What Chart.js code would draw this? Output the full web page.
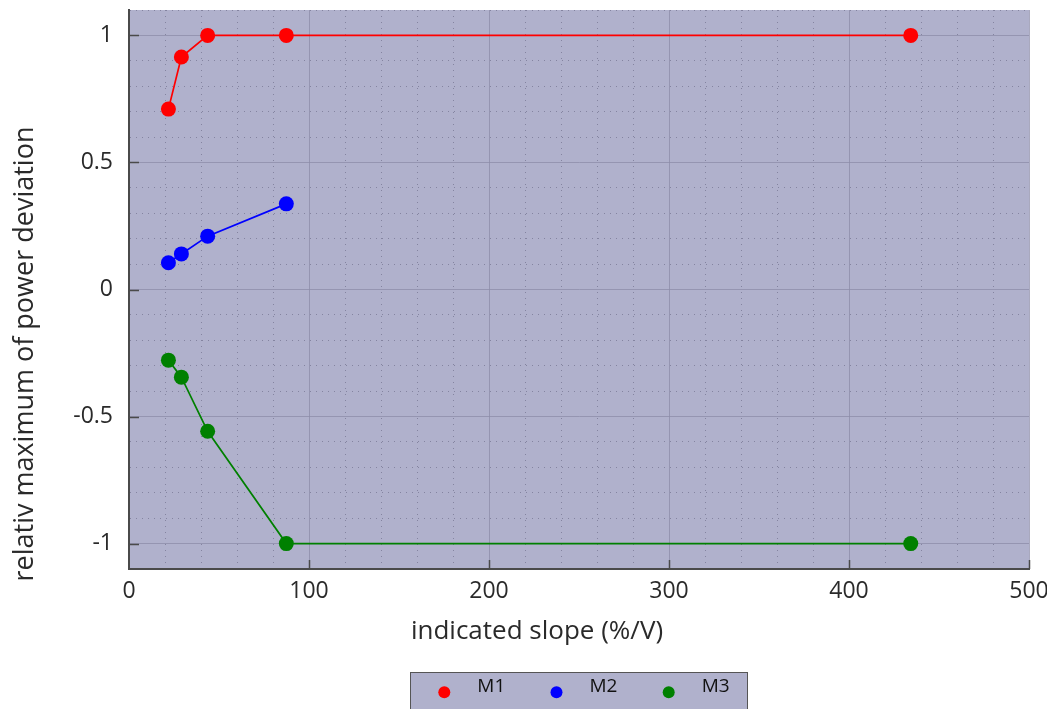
<!DOCTYPE html>
<html>
<head>
<meta charset="utf-8">
<script src="https://cdn.jsdelivr.net/npm/chart.js@4.4.1/dist/chart.umd.min.js"></script>
<style>
  html, body { margin: 0; padding: 0; background: #fff; }
  #wrap { width: 1047px; height: 709px; position: relative; }
</style>
</head>
<body>
<div id="wrap"><canvas id="chart"></canvas></div>
<script>
// values
const slope = [21.9, 29.1, 43.7, 87.4, 434.3];
const m1 = [0.71, 0.915, 1, 1, 1];
const m2 = [0.105, 0.14, 0.21, 0.337];
const m3 = [-0.278, -0.345, -0.558, -1, -1];
const seriesNames = ["M1", "M2", "M3"];
const seriesColors = ["#ff0000", "#0000ff", "#008000"];
const xMajor = [100, 200, 300, 400, 500];
const yMajor = [-1, -0.5, 0, 0.5, 1];

const FONT = "'Open Sans', 'Noto Sans', sans-serif";
const PLOT_BG = "#b0b1cc";
const TEXT = "#2a2a2a";
const GRID_MAJOR = "rgba(140,140,168,0.75)";
const GRID_MINOR = "rgba(118,118,145,0.75)";

function pts(ys) {
  return ys.map((y, i) => ({ x: slope[i], y: y }));
}

const isMajorX = v => Math.abs(v / 100 - Math.round(v / 100)) < 1e-6;
const isMajorY = v => Math.abs(v * 2 - Math.round(v * 2)) < 1e-6;

// plot background, inner tick marks, axis titles and the boxed legend
const decor = {
  id: "decor",
  beforeDraw(chart) {
    const { ctx, chartArea: a } = chart;
    ctx.save();
    ctx.fillStyle = PLOT_BG;
    ctx.fillRect(a.left, a.top, a.right - a.left, a.bottom - a.top);
    ctx.restore();
  },
  afterDraw(chart) {
    const { ctx, chartArea: a, scales } = chart;
    ctx.save();
    // ticks pointing into the plot
    ctx.strokeStyle = "#4a4a4a";
    ctx.lineWidth = 1.5;
    yMajor.forEach(v => {
      const py = Math.round(scales.y.getPixelForValue(v)) + 0.5;
      ctx.beginPath(); ctx.moveTo(a.left, py); ctx.lineTo(a.left + 10, py); ctx.stroke();
    });
    xMajor.forEach(v => {
      const px = Math.round(scales.x.getPixelForValue(v)) + 0.5;
      ctx.beginPath(); ctx.moveTo(px, a.bottom); ctx.lineTo(px, a.bottom - 9); ctx.stroke();
    });

    // axis titles
    ctx.fillStyle = TEXT;
    ctx.textAlign = "center";
    ctx.textBaseline = "alphabetic";
    ctx.font = "26px " + FONT;
    ctx.fillText("indicated slope (%/V)", 537, 639);
    ctx.save();
    ctx.font = "27px " + FONT;
    ctx.translate(33, 354);
    ctx.rotate(-Math.PI / 2);
    ctx.fillText("relativ maximum of power deviation", 0, 0);
    ctx.restore();

    // legend
    ctx.fillStyle = PLOT_BG;
    ctx.fillRect(410.5, 672.5, 337, 40);
    ctx.strokeStyle = "#555";
    ctx.lineWidth = 1;
    ctx.strokeRect(410.5, 672.5, 337, 40);
    ctx.font = "19px " + FONT;
    ctx.textAlign = "left";
    chart.data.datasets.forEach((ds, i) => {
      const cx = 444.3 + i * 112.2;
      ctx.fillStyle = ds.pointBackgroundColor;
      ctx.beginPath(); ctx.arc(cx, 692.3, 6, 0, Math.PI * 2); ctx.fill();
      ctx.fillStyle = "#111";
      ctx.fillText(ds.label, cx + 33, 692);
    });
    ctx.restore();
  }
};

const datasets = [m1, m2, m3].map((ys, i) => ({
  label: seriesNames[i],
  data: pts(ys),
  showLine: true,
  borderColor: seriesColors[i],
  backgroundColor: seriesColors[i],
  pointBackgroundColor: seriesColors[i],
  pointBorderWidth: 0,
  borderWidth: 1.7,
  pointRadius: 7.5,
  pointHoverRadius: 7.5,
  tension: 0
}));

new Chart(document.getElementById("chart"), {
  type: "scatter",
  data: { datasets: datasets },
  options: {
    responsive: true,
    maintainAspectRatio: false,
    animation: false,
    layout: { padding: { top: 10, right: 18, left: 0, bottom: 0 } },
    plugins: { legend: { display: false }, tooltip: { enabled: false } },
    scales: {
      x: {
        type: "linear",
        min: 0, max: 500,
        afterFit(s) { s.height = 140; s.paddingLeft = 0; s.paddingRight = 0; },
        ticks: {
          stepSize: 20,
          autoSkip: false,
          maxRotation: 0,
          padding: 9,
          color: TEXT,
          font: { family: FONT, size: 23 },
          callback: v => isMajorX(v) || v === 0 ? String(v) : ""
        },
        grid: {
          drawTicks: false,
          color: ctx => isMajorX(ctx.tick.value) ? GRID_MAJOR : GRID_MINOR,
          lineWidth: 1
        },
        border: {
          display: true, color: "#4a4a4a", width: 2,
          dash: ctx => (ctx.tick && isMajorX(ctx.tick.value)) ? [] : [1, 5]
        }
      },
      y: {
        type: "linear",
        min: -1.1, max: 1.1,
        afterFit(s) { s.width = 129; s.paddingTop = 0; s.paddingBottom = 0; },
        ticks: {
          stepSize: 0.1,
          autoSkip: false,
          padding: 16,
          color: TEXT,
          font: { family: FONT, size: 23 },
          callback: v => {
            if (!isMajorY(v) || Math.abs(v) > 1.05) return "";
            const r = Math.round(v * 2) / 2;
            return String(r);
          }
        },
        grid: {
          drawTicks: false,
          color: ctx => isMajorY(ctx.tick.value) ? GRID_MAJOR : GRID_MINOR,
          lineWidth: 1
        },
        border: {
          display: true, color: "#4a4a4a", width: 2,
          dash: ctx => (ctx.tick && isMajorY(ctx.tick.value)) ? [] : [1, 5]
        }
      }
    }
  },
  plugins: [decor]
});
</script>
</body>
</html>
